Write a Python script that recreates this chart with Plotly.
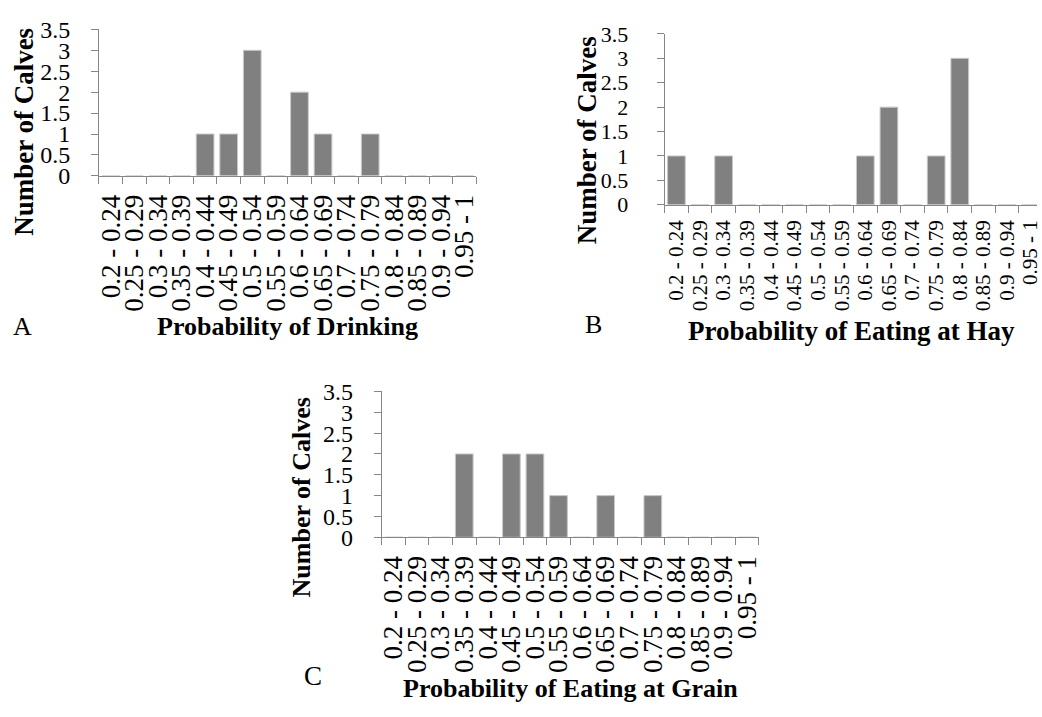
import plotly.graph_objects as go

# Probability bins shared by all three histograms
bins = ["0.2 - 0.24", "0.25 - 0.29", "0.3 - 0.34", "0.35 - 0.39", "0.4 - 0.44",
        "0.45 - 0.49", "0.5 - 0.54", "0.55 - 0.59", "0.6 - 0.64", "0.65 - 0.69",
        "0.7 - 0.74", "0.75 - 0.79", "0.8 - 0.84", "0.85 - 0.89", "0.9 - 0.94",
        "0.95 - 1"]

# Number of calves per bin
drinking = [0, 0, 0, 0, 1, 1, 3, 0, 2, 1, 0, 1, 0, 0, 0, 0]
eating_hay = [1, 0, 1, 0, 0, 0, 0, 0, 1, 2, 0, 1, 3, 0, 0, 0]
eating_grain = [0, 0, 0, 2, 0, 2, 2, 1, 0, 1, 0, 1, 0, 0, 0, 0]

y_ticks = [0, 0.5, 1, 1.5, 2, 2.5, 3, 3.5]
y_tick_text = ["0", "0.5", "1", "1.5", "2", "2.5", "3", "3.5"]

W, H = 1042, 717
SERIF = "Liberation Serif"
AXIS_COLOR = "#868686"
BAR_COLOR = "#808080"


def px_x(x):
    return x / W


def px_y(y):
    return 1 - y / H


fig = go.Figure()

panels = [
    # (values, axis suffix, x domain px, y domain px, x range, tick font, ytick font, y standoff, x standoff)
    (drinking, "", (96.7, 477.0), (17.0, 169.0), [-0.5, 15.5], 27, 24, 16, 7),
    (eating_hay, "2", (666.7, 1042.0), (21.7, 199.0), [-0.5, 15.27], 21, 22, 24, 6),
    (eating_grain, "3", (381.7, 761.7), (392.7, 544.0), [-0.5, 15.5], 27, 24, 16, 7),
]

for vals, sfx, xd, yd, xr, xfs, yfs, ystand, xstand in panels:
    fig.add_trace(go.Bar(
        x=bins, y=vals,
        xaxis="x" + sfx, yaxis="y" + sfx,
        marker=dict(color=BAR_COLOR, line=dict(color="#c8c8c8", width=1)),
        showlegend=False,
    ))
    fig.layout["xaxis" + sfx] = dict(
        domain=[px_x(xd[0]), px_x(xd[1])],
        anchor="y" + sfx,
        type="category",
        range=xr,
        tickmode="array", tickvals=bins, ticktext=bins,
        showline=True, linecolor=AXIS_COLOR, linewidth=1,
        ticks="outside", tickson="boundaries", ticklen=7, tickcolor=AXIS_COLOR,
        tickangle=-90,
        tickfont=dict(family=SERIF, size=xfs, color="black"),
        ticklabelstandoff=xstand,
        showgrid=False, zeroline=False,
        fixedrange=True,
    )
    fig.layout["yaxis" + sfx] = dict(
        domain=[px_y(yd[1]), px_y(yd[0])],
        anchor="x" + sfx,
        range=[0, 3.5],
        tickvals=y_ticks, ticktext=y_tick_text,
        showline=True, linecolor=AXIS_COLOR, linewidth=1,
        ticks="outside", ticklen=7, tickcolor=AXIS_COLOR,
        tickfont=dict(family=SERIF, size=yfs, color="black"),
        ticklabelstandoff=ystand,
        showgrid=False, zeroline=False,
        fixedrange=True,
    )

annotations = [
    # panel letters
    ("A", 20, 325, 26, False, 0),
    ("B", 595, 323, 26, False, 0),
    ("C", 312, 688, 27, False, 0),
    # x-axis titles
    ("Probability of Drinking", 287, 325, 26, True, 0),
    ("Probability of Eating at Hay", 855, 330, 27, True, 0),
    ("Probability of Eating at Grain", 572, 701, 26, True, 0),
    # y-axis titles
    ("Number of Calves", 21, 123.5, 27, True, -90),
    ("Number of Calves", 588, 131.5, 27, True, -90),
    ("Number of Calves", 301, 503, 26, True, -90),
]

fig.update_layout(
    annotations=[
        dict(
            text=f"<b>{t}</b>" if bold else t,
            x=px_x(x), y=px_y(y), xref="paper", yref="paper",
            xanchor="center", yanchor="middle", showarrow=False,
            textangle=ang,
            font=dict(family=SERIF, size=s, color="black"),
        )
        for t, x, y, s, bold, ang in annotations
    ],
    width=W, height=H,
    margin=dict(l=0, r=0, t=0, b=0),
    paper_bgcolor="white", plot_bgcolor="white",
    bargap=0.25,
)

fig.write_html("out.html", config={"displayModeBar": False})
